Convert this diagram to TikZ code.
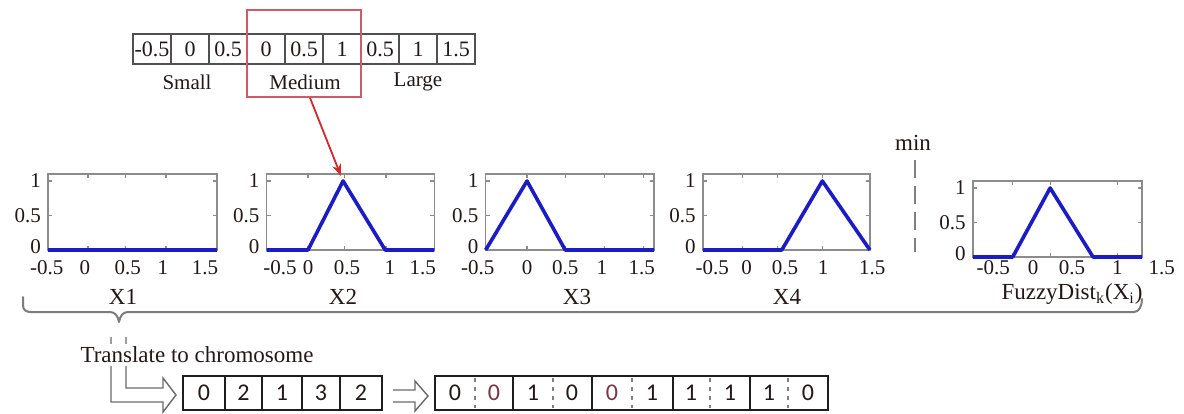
\documentclass[tikz,border=0pt]{standalone}
\usepackage{fontspec}
\setmainfont{Liberation Serif}
\newfontfamily\digitfont{Carlito}
\usetikzlibrary{arrows.meta}
\definecolor{txt}{HTML}{221818}
\definecolor{axgray}{HTML}{8C8C8C}
\definecolor{curveblue}{HTML}{1C1CC4}
\definecolor{boxred}{HTML}{D05A66}
\definecolor{arrred}{HTML}{D02A2A}
\definecolor{bracegray}{HTML}{7C7C7C}
\definecolor{cellgray}{HTML}{505050}
\definecolor{hollowgray}{HTML}{6A6A6A}
\definecolor{chromline}{HTML}{1E1E1E}
\definecolor{pinkdigit}{HTML}{7A3444}
\tikzset{
 axbox/.style={draw=axgray, line width=0.8pt},
 tickmark/.style={draw=axgray, line width=0.6pt},
 curve/.style={draw=curveblue, line width=1.8pt, line join=round},
 ticklbl/.style={font=\fontsize{10.5}{12}\selectfont, text=txt, inner sep=0.5pt},
 axlbl/.style={font=\fontsize{11.5}{13}\selectfont, text=txt, inner sep=1pt},
 cell/.style={draw=cellgray, line width=0.7pt, minimum width=19pt, minimum height=15pt, inner sep=0pt, font=\fontsize{11}{12}\selectfont, text=txt},
 setlbl/.style={font=\fontsize{10.5}{12}\selectfont, text=txt, inner sep=1pt},
 redbox/.style={draw=boxred, line width=0.8pt, minimum width=57pt, minimum height=43.5pt, inner sep=0pt},
 redarrow/.style={draw=arrred, line width=0.9pt, -{Stealth[length=6pt,width=4.5pt]}},
 brace/.style={draw=bracegray, line width=1pt, line cap=round, line join=round},
 hollow/.style={draw=hollowgray, line width=0.7pt, line join=miter},
 chromout/.style={draw=chromline, line width=1pt},
 chromdiv/.style={draw=chromline, line width=0.8pt},
 chromdash/.style={draw=gray, line width=0.7pt, dash pattern=on 2pt off 2.5pt},
 digit/.style={font=\digitfont\fontsize{12}{13}\selectfont, text=txt, inner sep=0pt},
 minline/.style={draw=gray, line width=0.8pt, dash pattern=on 9pt off 4pt},
}
% #1 x0 px, #2 ybottom px, #3 xmin, #4 xmax, #5 curve, #6 label list pos/text, #7 tick list, #8 name prefix, #9 label drop
\newcommand\fzplot[9]{%
\begin{scope}[shift={(#1,#2)}]
\begin{scope}[x=39pt,y=34.5pt]
\draw[axbox] (#3,0) rectangle (#4,1.1);
\foreach \t in {#7}{\draw[tickmark] (\t,0) -- ++(0,2pt); \draw[tickmark] (\t,1.1) -- ++(0,-2pt);}
\foreach \v in {0.5,1}{\draw[tickmark] (#3,\v) -- ++(2pt,0); \draw[tickmark] (#4,\v) -- ++(-2pt,0);}
\draw[curve] #5;
\node[ticklbl,anchor=east] (#8y1) at ([xshift=-3pt]#3,1) {1};
\node[ticklbl,anchor=east] (#8y2) at ([xshift=-3pt]#3,0.5) {0.5};
\node[ticklbl,anchor=east] (#8y3) at ([xshift=-3pt,yshift=1.5pt]#3,0) {0};
\foreach \p/\s [count=\i] in {#6}{\node[ticklbl] (#8x\i) at ([yshift=-#9]\p,0) {\s};}
\end{scope}
\end{scope}}
\begin{document}
\begin{tikzpicture}[x=0.5pt,y=-0.5pt]
\useasboundingbox[fill=white] (0,0) rectangle (1184,413);

% top table
\foreach \v [count=\i] in {-0.5,0,0.5,0,0.5,1,0.5,1,1.5}{
  \node[cell] (c\i) at ({133+19+38*(\i-1)},49) {\v};
}
\node[setlbl] (small) at (187,82) {Small};
\node[setlbl] (medium) at (305,82) {Medium};
\node[setlbl] (large) at (418,82) {Large};
\node[redbox] (medbox) at (304,53.5) {};

% plots
\fzplot{88}{250}{-0.51}{1.65}{(-0.51,0) -- (1.65,0)}
  {-0.53/-0.5,-0.04/0,0.51/0.5,0.96/1,1.5/1.5}{0,0.48,1}{pa}{9pt}
\fzplot{308}{250}{-0.53}{1.62}{(-0.53,0) -- (0,0) -- (0.45,1) -- (0.99,0) -- (1.62,0)}
  {-0.36/-0.5,0/0,0.5/0.5,1.05/1,1.47/1.5}{0,0.47,1}{pb}{9pt}
\fzplot{527}{250}{-0.53}{1.63}{(-0.53,0) -- (0,1) -- (0.49,0) -- (1.63,0)}
  {-0.63/-0.5,0/0,0.49/0.5,0.96/1,1.47/1.5}{0,0.49,0.99,1.49}{pc}{9pt}
\fzplot{742}{250}{-0.5}{1.64}{(-0.5,0) -- (0.51,0) -- (1.03,1) -- (1.64,0)}
  {-0.38/-0.5,0.06/0,0.55/0.5,1.04/1,1.67/1.5}{0.01,0.46,1.03}{pd}{9pt}
\fzplot{1033}{257}{-0.77}{1.4}{(-0.77,0) -- (-0.26,0) -- (0.22,1) -- (0.77,0) -- (1.4,0)}
  {-0.51/-0.5,0/0,0.5/0.5,1.08/1,1.65/1.5}{-0.26,0.22,1.08}{pe}{5.5pt}

\node[axlbl] (lx1) at (123,297) {X1};
\node[axlbl] (lx2) at (343,297) {X2};
\node[axlbl] (lx3) at (577,297) {X3};
\node[axlbl] (lx4) at (787,297) {X4};
\node[axlbl] (lfz) at (1072,294) {FuzzyDist\textsubscript{k}(X\textsubscript{i})};

% red arrow
\coordinate (x2peak) at (341,176);
\draw[redarrow] ([xshift=3pt]medbox.south) -- (x2peak);

% min
\node[axlbl] (minlbl) at (913,143) {min};
\coordinate (mintop) at (915,160);
\coordinate (minbot) at (915,252);
\draw[minline] (mintop) -- (minbot);

% brace
\draw[brace] (23,297) -- (23,305) .. controls (23,310) and (26,312) .. (31,312)
  -- (110,312) .. controls (115,312) and (118,316) .. (119,322)
  .. controls (120,316) and (123,312) .. (128,312)
  -- (1134,312) .. controls (1139,312) and (1142,306) .. (1142,299);

% L-shaped hollow arrow
\coordinate (la) at (111,337);
\coordinate (lb) at (126,337);
\draw[hollow] (la) -- (111,402) -- (163,402) -- (163,412) -- (176,395) -- (163,378) -- (163,388) -- (126,388) -- (lb);
\node[axlbl, fill=white, inner sep=1.5pt] (translate) at (197,355) {Translate to chromosome};

% chromosome 1
\node[digit] (g1) at (204,393) {0};
\node[digit] (g2) at (243.5,393) {2};
\node[digit] (g3) at (282,393) {1};
\node[digit] (g4) at (321,393) {3};
\node[digit] (g5) at (361,393) {2};
\foreach \x in {225,262,302,340}{\draw[chromdiv] (\x,376) -- (\x,410);}
\draw[chromout] (183,376) rectangle (382,410);

% hollow arrow between
\draw[hollow] (393,390) -- (415,390) -- (415,381) -- (428,396) -- (415,411) -- (415,402) -- (393,402);

% chromosome 2
\foreach \x in {475,553,632,710,788}{\draw[chromdash] (\x,378) -- (\x,408);}
\foreach \x in {513,592,673,750}{\draw[chromdiv] (\x,376) -- (\x,410);}
\draw[chromout] (435,376) rectangle (828,410);
\node[digit] (b1) at (455,393) {0};
\node[digit, text=pinkdigit] (b2) at (494,393) {0};
\node[digit] (b3) at (533,393) {1};
\node[digit] (b4) at (572,393) {0};
\node[digit, text=pinkdigit] (b5) at (612,393) {0};
\node[digit] (b6) at (652,393) {1};
\node[digit] (b7) at (691,393) {1};
\node[digit] (b8) at (730,393) {1};
\node[digit] (b9) at (769,393) {1};
\node[digit] (b10) at (808,393) {0};
\end{tikzpicture}
\end{document}
